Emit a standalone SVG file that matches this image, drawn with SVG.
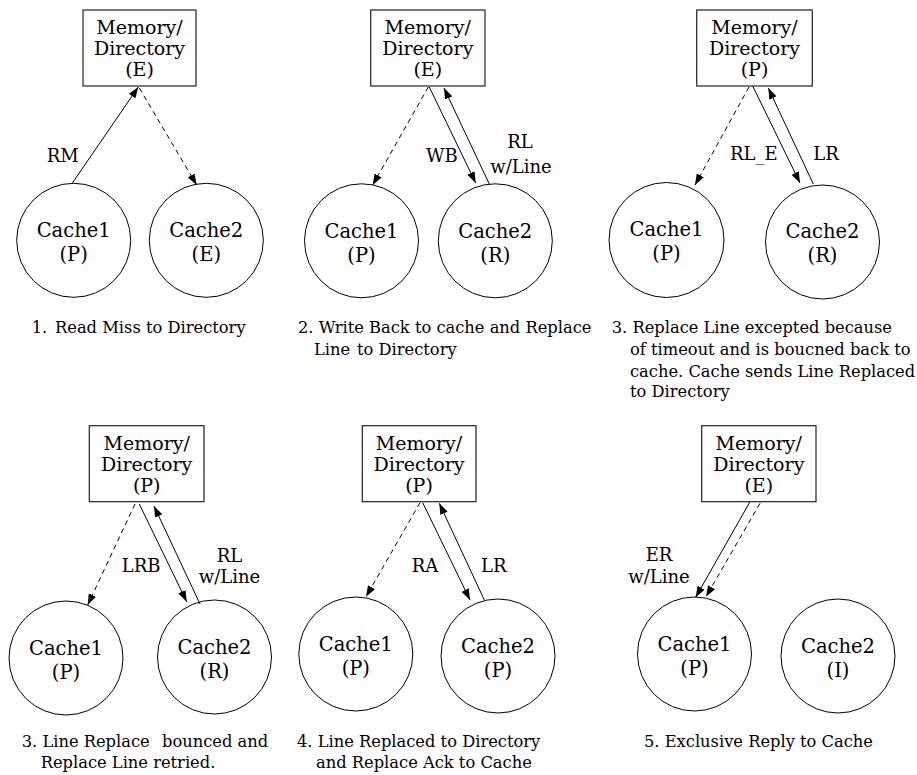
<svg xmlns="http://www.w3.org/2000/svg" width="917" height="775" viewBox="0 0 917 775">
  <style>
    .box { fill: #ffffff; stroke: #222222; stroke-width: 1.2; }
    .node { fill: #ffffff; stroke: #000000; stroke-width: 1; }
    .box-text { font-family: "DejaVu Serif", "Liberation Serif", serif; font-size: 19px; fill: #000; text-anchor: middle; }
    .node-text { font-family: "DejaVu Serif", "Liberation Serif", serif; font-size: 19.5px; fill: #000; text-anchor: middle; }
    .label { font-family: "DejaVu Serif", "Liberation Serif", serif; font-size: 18px; fill: #000; }
    .caption { font-family: "DejaVu Serif", "Liberation Serif", serif; font-size: 16.3px; fill: #000; }
    .msg { fill: none; stroke: #000; stroke-width: 1; marker-end: url(#head); }
    .dash { stroke-dasharray: 5 4; }
  </style>
  <defs>
    <marker id="head" markerWidth="11" markerHeight="8" refX="11" refY="4" orient="auto" markerUnits="userSpaceOnUse">
      <path d="M0,0 L11,4 L0,8 z" fill="#000"/>
    </marker>
  </defs>

  <!-- Step 1: read miss -->
  <g id="p1-dir">
    <rect class="box" x="83" y="10" width="113" height="76"/>
    <text class="box-text" x="139.5" y="34">Memory/</text>
    <text class="box-text" x="139.5" y="55">Directory</text>
    <text class="box-text" x="139.5" y="76">(E)</text>
  </g>
  <g id="p1-cache1">
    <circle class="node" cx="73.7" cy="240.3" r="57"/>
    <text class="node-text" x="73.7" y="237.3">Cache1</text>
    <text class="node-text" x="73.7" y="261">(P)</text>
  </g>
  <g id="p1-cache2">
    <circle class="node" cx="206.3" cy="240.3" r="57"/>
    <text class="node-text" x="206.3" y="237.3">Cache2</text>
    <text class="node-text" x="206.3" y="261">(E)</text>
  </g>

  <!-- Step 2: write back / replace line -->
  <g id="p2-dir">
    <rect class="box" x="370.7" y="10" width="114.3" height="76"/>
    <text class="box-text" x="427.8" y="34">Memory/</text>
    <text class="box-text" x="427.8" y="55">Directory</text>
    <text class="box-text" x="427.8" y="76">(E)</text>
  </g>
  <g id="p2-cache1">
    <circle class="node" cx="361.5" cy="240.8" r="57"/>
    <text class="node-text" x="361.5" y="237.8">Cache1</text>
    <text class="node-text" x="361.5" y="261.5">(P)</text>
  </g>
  <g id="p2-cache2">
    <circle class="node" cx="495.3" cy="240.8" r="57"/>
    <text class="node-text" x="495.3" y="237.8">Cache2</text>
    <text class="node-text" x="495.3" y="261.5">(R)</text>
  </g>

  <!-- Step 3: replace line bounced on timeout -->
  <g id="p3-dir">
    <rect class="box" x="696.7" y="10" width="115.6" height="76"/>
    <text class="box-text" x="754.5" y="34">Memory/</text>
    <text class="box-text" x="754.5" y="55">Directory</text>
    <text class="box-text" x="754.5" y="76">(P)</text>
  </g>
  <g id="p3-cache1">
    <circle class="node" cx="666.5" cy="240" r="57.5"/>
    <text class="node-text" x="666.5" y="236">Cache1</text>
    <text class="node-text" x="666.5" y="260">(P)</text>
  </g>
  <g id="p3-cache2">
    <circle class="node" cx="822.5" cy="242" r="57"/>
    <text class="node-text" x="822.5" y="238">Cache2</text>
    <text class="node-text" x="822.5" y="262">(R)</text>
  </g>

  <!-- Step 3 (retry): line replace bounced -->
  <g id="p4-dir">
    <rect class="box" x="89.3" y="425.7" width="114.7" height="76"/>
    <text class="box-text" x="146.7" y="449.7">Memory/</text>
    <text class="box-text" x="146.7" y="470.7">Directory</text>
    <text class="box-text" x="146.7" y="491.7">(P)</text>
  </g>
  <g id="p4-cache1">
    <circle class="node" cx="66" cy="658" r="57"/>
    <text class="node-text" x="66" y="655">Cache1</text>
    <text class="node-text" x="66" y="679">(P)</text>
  </g>
  <g id="p4-cache2">
    <circle class="node" cx="214.5" cy="657" r="57"/>
    <text class="node-text" x="214.5" y="654">Cache2</text>
    <text class="node-text" x="214.5" y="678">(R)</text>
  </g>

  <!-- Step 4: line replaced / replace ack -->
  <g id="p5-dir">
    <rect class="box" x="362.3" y="425.7" width="113.7" height="76"/>
    <text class="box-text" x="419" y="449.7">Memory/</text>
    <text class="box-text" x="419" y="470.7">Directory</text>
    <text class="box-text" x="419" y="491.7">(P)</text>
  </g>
  <g id="p5-cache1">
    <circle class="node" cx="355.8" cy="654" r="57"/>
    <text class="node-text" x="355.8" y="651">Cache1</text>
    <text class="node-text" x="355.8" y="675">(P)</text>
  </g>
  <g id="p5-cache2">
    <circle class="node" cx="498" cy="656" r="57"/>
    <text class="node-text" x="498" y="653">Cache2</text>
    <text class="node-text" x="498" y="677">(P)</text>
  </g>

  <!-- Step 5: exclusive reply -->
  <g id="p6-dir">
    <rect class="box" x="701.7" y="425.7" width="114.3" height="76"/>
    <text class="box-text" x="758.8" y="449.7">Memory/</text>
    <text class="box-text" x="758.8" y="470.7">Directory</text>
    <text class="box-text" x="758.8" y="491.7">(E)</text>
  </g>
  <g id="p6-cache1">
    <circle class="node" cx="694.5" cy="654" r="57"/>
    <text class="node-text" x="694.5" y="651">Cache1</text>
    <text class="node-text" x="694.5" y="675">(P)</text>
  </g>
  <g id="p6-cache2">
    <circle class="node" cx="838" cy="656" r="57"/>
    <text class="node-text" x="838" y="653">Cache2</text>
    <text class="node-text" x="838" y="677">(I)</text>
  </g>

  <!-- Messages between caches and directory -->
  <g id="connectors">
    <line class="msg" x1="71.7" y1="184" x2="138.3" y2="87"/>
    <line class="msg dash" x1="139.3" y1="88" x2="196.7" y2="185"/>

    <line class="msg dash" x1="428.3" y1="87" x2="372.7" y2="185"/>
    <line class="msg" x1="429.3" y1="87" x2="475.7" y2="183"/>
    <line class="msg" x1="489.3" y1="184" x2="444" y2="88"/>

    <line class="msg dash" x1="749" y1="87" x2="695" y2="185"/>
    <line class="msg" x1="752.7" y1="86" x2="800" y2="183"/>
    <line class="msg" x1="813.3" y1="184" x2="768.3" y2="88"/>

    <line class="msg dash" x1="135" y1="504" x2="87.7" y2="605"/>
    <line class="msg" x1="139.3" y1="504" x2="186.7" y2="601.7"/>
    <line class="msg" x1="200" y1="604" x2="154" y2="506"/>

    <line class="msg dash" x1="420" y1="502.7" x2="366" y2="596.7"/>
    <line class="msg" x1="422.7" y1="502.7" x2="470" y2="600"/>
    <line class="msg" x1="484.3" y1="600" x2="439.3" y2="503.3"/>

    <line class="msg" x1="750" y1="501.7" x2="695.7" y2="597.3"/>
    <line class="msg dash" x1="760" y1="503.3" x2="706" y2="596.7"/>
  </g>

  <!-- Message labels -->
  <g id="labels">
    <text class="label" x="46.7" y="161.7">RM</text>
    <text class="label" x="426" y="161.7">WB</text>
    <text class="label" x="520" y="148.3" text-anchor="middle">RL</text>
    <text class="label" x="521" y="172.7" text-anchor="middle">w/Line</text>
    <text class="label" x="730" y="160">RL_E</text>
    <text class="label" x="813.3" y="160">LR</text>
    <text class="label" x="121.7" y="571.7">LRB</text>
    <text class="label" x="229.5" y="561.7" text-anchor="middle">RL</text>
    <text class="label" x="229.5" y="582.7" text-anchor="middle">w/Line</text>
    <text class="label" x="411.7" y="571.7">RA</text>
    <text class="label" x="481" y="571.7">LR</text>
    <text class="label" x="659" y="561" text-anchor="middle">ER</text>
    <text class="label" x="659" y="582.7" text-anchor="middle">w/Line</text>
  </g>

  <!-- Step captions -->
  <g id="captions">
    <text class="caption" y="332.7"><tspan x="31.7">1.</tspan><tspan x="55">Read Miss to Directory</tspan></text>
    <text class="caption" x="298" y="333">2. Write Back to cache and Replace</text>
    <text class="caption" y="354.5"><tspan x="314">Line</tspan><tspan x="357">to Directory</tspan></text>
    <text class="caption" x="611.7" y="333.3">3. Replace Line excepted because</text>
    <text class="caption" x="630" y="355">of timeout and is boucned back to</text>
    <text class="caption" x="630" y="376.7">cache. Cache sends Line Replaced</text>
    <text class="caption" x="630" y="397">to Directory</text>
    <text class="caption" y="746.7"><tspan x="21.7">3. Line Replace</tspan><tspan x="162">bounced and</tspan></text>
    <text class="caption" x="40.7" y="768.3">Replace Line retried.</text>
    <text class="caption" x="297" y="746.7">4. Line Replaced to Directory</text>
    <text class="caption" x="316" y="768.3">and Replace Ack to Cache</text>
    <text class="caption" x="644" y="746.7">5. Exclusive Reply to Cache</text>
  </g>
</svg>
